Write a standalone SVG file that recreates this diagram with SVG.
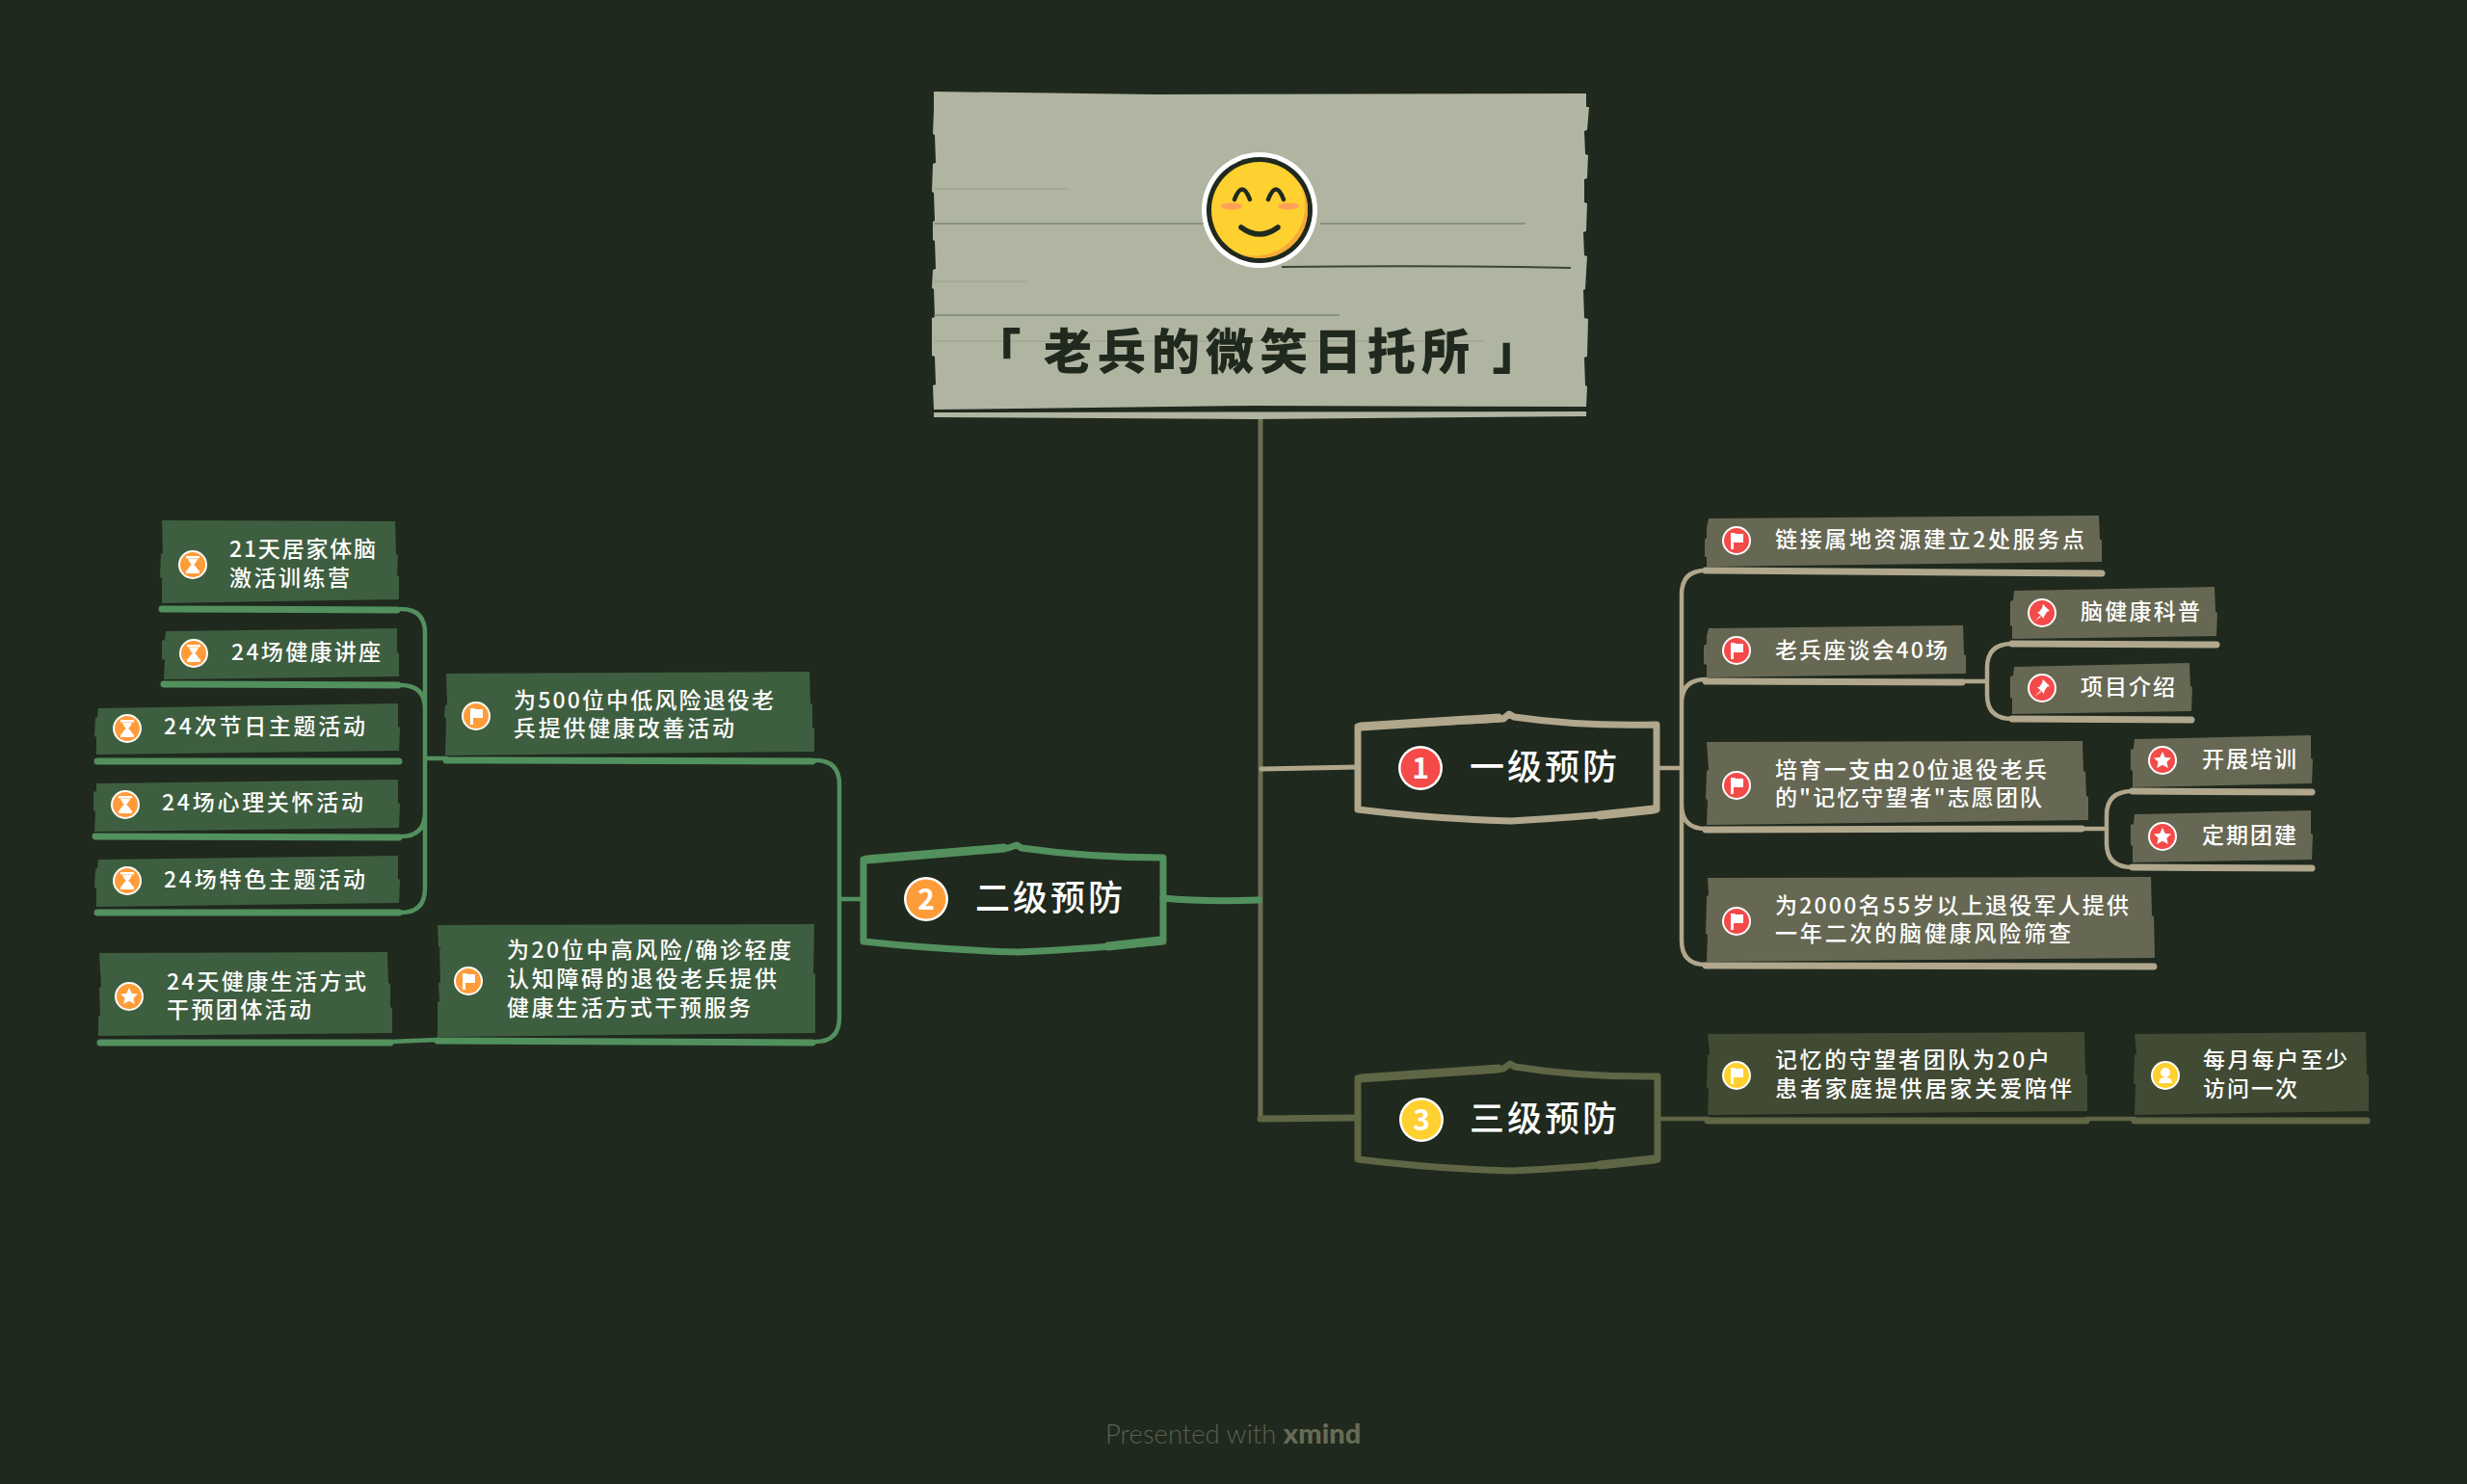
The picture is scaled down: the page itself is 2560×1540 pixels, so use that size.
<svg xmlns="http://www.w3.org/2000/svg" width="2560" height="1540" viewBox="0 0 2560 1540">
<style>
text{font-family:"Noto Sans CJK SC","Noto Sans",sans-serif;fill:#fff;font-weight:500}
.t{font-size:23px;letter-spacing:3px}
.h{font-size:36px;letter-spacing:3px}
.title{font-size:50px;font-weight:900;fill:#20291e;letter-spacing:6px}
.l{fill:none;stroke-linecap:round;stroke-linejoin:round}
.tan{stroke:#b0a78c}.grn{stroke:#52905e}.olv{stroke:#5f6645}
.w4{stroke-width:4.5}.w6{stroke-width:7}.w5{stroke-width:5}.w9{stroke-width:9}
.ct{fill:#666853}.cg{fill:#3e5e40}.co{fill:#414a33}
.foot{font-family:Lato,"Noto Sans",sans-serif;font-size:27.5px;fill:#5a614c;font-weight:300}
</style>
<defs>
<g id="flag"><circle r="15" fill="#fff"/><circle r="13"/><path d="M-6 -8 V9 H-3 V2 L7 2 V-7 H-1 L-2 -8 Z" fill="#fff"/></g>
<g id="star"><circle r="15" fill="#fff"/><circle r="13"/><path d="M0 -9 L2.8 -3 L9 -2.5 L4.4 1.8 L5.8 8 L0 4.8 L-5.8 8 L-4.4 1.8 L-9 -2.5 L-2.8 -3 Z" fill="#fff"/></g>
<g id="pin"><circle r="15" fill="#fff"/><circle r="13"/><path d="M1 -9 L8 -2 L5 -1 L2 4 L2 6 L-5 -1 L-3 -1 L0 -5 Z M-2 3 L-8 9 L-1 4 Z" fill="#fff"/></g>
<g id="glass"><circle r="15" fill="#fff"/><circle r="13"/><path d="M-7 -9 H7 V-6.5 H-7 Z M-5 -6 H5 Q3.5 -2 1 0 Q3 1 6 6 H7 V9 H-7 V6 H-6 Q-3 1 -1 0 Q-3.5 -2 -5 -6 Z" fill="#fff"/></g>
<g id="person"><circle r="15" fill="#fff"/><circle r="13"/><circle cy="-3" r="5" fill="#fff"/><path d="M-7 8 Q-7 2 0 2 Q7 2 7 8 Z" fill="#fff"/></g>
</defs>
<rect width="2560" height="1540" fill="#20291e"/>

<g id="connectors">
<path class="l" stroke="#6b6f52" stroke-width="5" d="M1308 433 V1161"/>
<path class="l tan w5" d="M1309 798 L1409 796"/>
<path class="l grn w6" d="M1207 932 Q1250 936 1306 934"/>
<path class="l olv w6" d="M1308 1161 L1409 1160"/>
<path class="l tan w4" d="M1719 797 H1745 M1745 797 V617 Q1745 592 1770 592 M1745 797 V730 Q1745 705 1770 705 M1745 797 V835 Q1745 860 1770 860 M1745 797 V976 Q1745 1001 1770 1001"/>
<path class="l tan w6" d="M1770 592 L2181 595 M1770 707 L2036 708 M1770 861 L2160 860 M1770 1002 L2235 1003"/>
<path class="l tan w4" d="M2036 707 H2062 M2062 707 V693 Q2062 668 2088 668 M2062 707 V721 Q2062 746 2088 746 M2160 860 H2186 M2186 860 V846 Q2186 821 2213 821 M2186 860 V875 Q2186 900 2213 900"/>
<path class="l tan w6" d="M2088 668 L2300 669 M2088 746 L2274 747 M2213 821 L2399 822 M2213 900 L2399 901"/>
<path class="l grn w4" d="M871 933 H896 M871 933 V814 Q871 789 846 789 M871 933 V1056 Q871 1081 846 1081 M463 787 H441 M441 787 V657 Q441 632 416 632 M441 787 V736 Q441 711 416 711 M441 787 V843 Q441 868 416 868 M441 787 V922 Q441 947 416 947 M405 1081 L454 1079"/>
<path class="l grn w6" d="M168 632 L412 633 M170 710 L413 711 M101 790 L414 790 M99 868 L414 869 M101 947 L414 947 M463 789 L843 790 M454 1080 L843 1082 M104 1082 L405 1082"/>
<path class="l olv w4" d="M1720 1161 H1772 M2165 1161 H2215"/>
<path class="l olv w6" d="M1772 1163 L2165 1163 M2215 1163 L2456 1163"/>
</g>

<g id="root">
<polygon fill="#b0b5a1" points="969,95 1200,98 1646,97 1646,111 1649,111 1647,135 1644,136 1645,160 1648,161 1647,185 1644,186 1644,210 1647,211 1646,240 1643,241 1644,265 1647,266 1645,300 1643,301 1644,330 1648,331 1647,370 1644,371 1645,400 1647,401 1646,422 1300,421 969,425 968,400 971,399 970,370 967,369 967,330 970,329 969,300 967,299 968,280 971,279 970,250 968,249 968,230 970,229 969,200 967,199 968,170 971,169 970,140 968,139 969,115"/>
<polygon fill="#b0b5a1" points="969,428 1646,427 1646,432 1300,435 969,433"/>
<path fill="none" stroke="#9aa08c" stroke-width="1" d="M969 196 H1110 M969 292 H1065 M969 354 H1540"/>
<path fill="none" stroke="#7f8672" stroke-width="1.5" d="M969 232 H1250 M1370 232 H1583 M969 327 H1390"/>
<path fill="none" stroke="#3c4533" stroke-width="2" d="M1330 277 Q1480 275 1630 278"/>
<circle cx="1307" cy="218" r="60" fill="#fff"/>
<circle cx="1307" cy="218" r="55" fill="#20291e"/>
<circle cx="1307" cy="218" r="50" fill="#fed030"/>
<path d="M1348 189 A50 50 0 0 1 1286 263 A52 52 0 0 0 1348 189 Z" fill="#f9a83a"/>
<ellipse cx="1278" cy="214" rx="11" ry="3.5" fill="#ffa05a"/><ellipse cx="1337" cy="214" rx="11" ry="3.5" fill="#ffa05a"/>
<path fill="none" stroke="#20291e" stroke-width="4.5" stroke-linecap="round" d="M1281 207 Q1289 186 1297 207 M1316 207 Q1324 186 1332 207"/>
<path fill="none" stroke="#20291e" stroke-width="5.5" stroke-linecap="round" d="M1288 236 Q1307 250 1326 236"/>
<text class="title" x="1307" y="383" text-anchor="middle">「 老兵的微笑日托所 」</text>
</g>

<g id="n1">
<path class="l tan w6" d="M1409 754 L1560 746 L1566 741 L1571 744 Q1640 754 1719 752 V840 Q1640 848 1568 852 Q1490 850 1409 840 Z"/>
<path class="l tan w9" d="M1412 754 L1555 745 M1660 846 L1716 840"/>
<circle cx="1474" cy="797" r="23" fill="#fff"/><circle cx="1474" cy="797" r="20.5" fill="#f44a4a"/>
<text x="1474" y="808" text-anchor="middle" font-size="30" style="font-weight:700">1</text>
<text class="h" x="1525" y="809">一级预防</text>
</g>
<g id="n2">
<path class="l grn w6" d="M896 892 L1046 880 L1055 877 L1060 880 Q1130 890 1207 890 V977 Q1130 985 1057 988 Q980 986 896 977 Z"/>
<path class="l grn w9" d="M899 892 L1042 880 M1150 982 L1204 976"/>
<circle cx="961" cy="933" r="23" fill="#fff"/><circle cx="961" cy="933" r="20.5" fill="#ff9c3a"/>
<text x="961" y="944" text-anchor="middle" font-size="30" style="font-weight:700">2</text>
<text class="h" x="1012" y="945">二级预防</text>
</g>
<g id="n3">
<path class="l olv w6" d="M1409 1119 L1560 1109 L1567 1104 L1572 1107 Q1640 1118 1720 1117 V1203 Q1640 1212 1568 1215 Q1490 1213 1409 1203 Z"/>
<path class="l olv w9" d="M1412 1119 L1555 1109 M1660 1209 L1717 1203"/>
<circle cx="1475" cy="1162" r="23" fill="#fff"/><circle cx="1475" cy="1162" r="20.5" fill="#fed030"/>
<text x="1475" y="1173" text-anchor="middle" font-size="30" style="font-weight:700">3</text>
<text class="h" x="1525" y="1174">三级预防</text>
</g>

<g id="c-link" fill="#f44a4a">
<polygon class="ct" points="1773,538 2178,535 2179,560 2181,560 2181,583 1771,588 1771,578 1769,578 1769,560 1771,558 1771,548"/>
<use href="#flag" x="1802" y="561"/>
<text class="t" x="1842" y="568" textLength="324">链接属地资源建立2处服务点</text>
</g>
<g id="c-talk" fill="#f44a4a">
<polygon class="ct" points="1773,652 2037,649 2038,679 2040,680 2040,699 1771,703 1771,690 1768,689 1768,670 1771,668 1771,660"/>
<use href="#flag" x="1802" y="675"/>
<text class="t" x="1842" y="683" textLength="182">老兵座谈会40场</text>
</g>
<g id="c-team" fill="#f44a4a">
<polygon class="ct" points="1771,770 2161,769 2162,800 2164,801 2165,826 2167,827 2167,851 1771,856 1772,830 1770,829 1771,800 1773,799 1772,785"/>
<use href="#flag" x="1802" y="815"/>
<text class="t" x="1842" y="807" textLength="285">培育一支由20位退役老兵</text>
<text class="t" x="1842" y="836" textLength="280">的"记忆守望者"志愿团队</text>
</g>
<g id="c-screen" fill="#f44a4a">
<polygon class="ct" points="1772,911 2232,910 2233,950 2235,951 2236,994 1771,998 1772,970 1770,969 1771,930 1773,929"/>
<use href="#flag" x="1802" y="956"/>
<text class="t" x="1842" y="948" textLength="370">为2000名55岁以上退役军人提供</text>
<text class="t" x="1842" y="977" textLength="310">一年二次的脑健康风险筛查</text>
</g>
<g id="c-sci" fill="#f44a4a">
<polygon class="ct" points="2090,613 2298,609 2299,635 2301,636 2300,660 2088,663 2088,650 2086,649 2086,624 2089,623"/>
<use href="#pin" x="2119" y="636"/>
<text class="t" x="2159" y="643" textLength="127">脑健康科普</text>
</g>
<g id="c-intro" fill="#f44a4a">
<polygon class="ct" points="2090,692 2272,688 2273,712 2275,713 2274,738 2088,741 2088,725 2086,724 2086,702 2089,701"/>
<use href="#pin" x="2119" y="714"/>
<text class="t" x="2159" y="721" textLength="101">项目介绍</text>
</g>
<g id="c-train" fill="#f44a4a">
<polygon class="ct" points="2215,767 2398,763 2398,787 2400,788 2399,813 2213,817 2213,800 2211,799 2211,778 2214,777"/>
<use href="#star" x="2244" y="789"/>
<text class="t" x="2285" y="796" textLength="101">开展培训</text>
</g>
<g id="c-build" fill="#f44a4a">
<polygon class="ct" points="2215,845 2398,841 2398,865 2400,866 2399,892 2213,895 2213,878 2211,877 2211,856 2214,855"/>
<use href="#star" x="2244" y="868"/>
<text class="t" x="2285" y="875" textLength="101">定期团建</text>
</g>
<g id="c-care" fill="#fed030">
<polygon class="co" points="1772,1073 2163,1071 2164,1115 2166,1116 2166,1153 1772,1157 1773,1130 1771,1129 1772,1095 1774,1094"/>
<use href="#flag" x="1802" y="1116"/>
<text class="t" x="1842" y="1108" textLength="288">记忆的守望者团队为20户</text>
<text class="t" x="1842" y="1138" textLength="311">患者家庭提供居家关爱陪伴</text>
</g>
<g id="c-visit" fill="#fed030">
<polygon class="co" points="2215,1073 2455,1071 2456,1115 2458,1116 2458,1153 2215,1157 2216,1125 2214,1124 2215,1095 2217,1094"/>
<use href="#person" x="2247" y="1116"/>
<text class="t" x="2286" y="1108" textLength="153">每月每户至少</text>
<text class="t" x="2286" y="1138" textLength="101">访问一次</text>
</g>

<g id="c-21" fill="#ff9c3a">
<polygon class="cg" points="168,540 410,541 411,575 413,576 412,597 414,598 414,622 168,626 168,600 166,599 167,575 169,574"/>
<use href="#glass" x="200" y="586"/>
<text class="t" x="238" y="578" textLength="155">21天居家体脑</text>
<text class="t" x="238" y="608" textLength="128">激活训练营</text>
</g>
<g id="c-lec" fill="#ff9c3a">
<polygon class="cg" points="172,655 412,652 412,677 414,678 414,702 170,705 171,685 168,684 168,665 171,664"/>
<use href="#glass" x="201" y="678"/>
<text class="t" x="240" y="685" textLength="158">24场健康讲座</text>
</g>
<g id="c-fest" fill="#ff9c3a">
<polygon class="cg" points="102,735 413,730 413,754 415,755 414,779 100,783 100,765 98,764 99,745 101,744"/>
<use href="#glass" x="132" y="756"/>
<text class="t" x="170" y="762" textLength="212">24次节日主题活动</text>
</g>
<g id="c-psy" fill="#ff9c3a">
<polygon class="cg" points="100,813 413,809 413,833 415,834 414,859 98,863 99,842 97,841 97,822 100,821"/>
<use href="#glass" x="130" y="835"/>
<text class="t" x="168" y="841" textLength="212">24场心理关怀活动</text>
</g>
<g id="c-spec" fill="#ff9c3a">
<polygon class="cg" points="102,892 413,888 413,912 415,913 414,937 100,941 100,922 98,921 99,902 101,901"/>
<use href="#glass" x="132" y="914"/>
<text class="t" x="170" y="921" textLength="212">24场特色主题活动</text>
</g>
<g id="c-500" fill="#ff9c3a">
<polygon class="cg" points="463,699 840,697 841,730 843,731 843,755 845,756 845,780 462,784 463,745 461,744 462,732 464,731"/>
<use href="#flag" x="494" y="743"/>
<text class="t" x="533" y="735" textLength="273">为500位中低风险退役老</text>
<text class="t" x="533" y="764" textLength="232">兵提供健康改善活动</text>
</g>
<g id="c-20" fill="#ff9c3a">
<polygon class="cg" points="454,960 845,959 844,1010 846,1011 846,1072 454,1076 454,1040 456,1039 455,1020 457,1019 456,985 458,984 455,983"/>
<use href="#flag" x="486" y="1018"/>
<text class="t" x="526" y="994" textLength="298">为20位中高风险/确诊轻度</text>
<text class="t" x="526" y="1024" textLength="283">认知障碍的退役老兵提供</text>
<text class="t" x="526" y="1054" textLength="256">健康生活方式干预服务</text>
</g>
<g id="c-24" fill="#ff9c3a">
<polygon class="cg" points="103,989 402,988 403,1020 405,1021 405,1045 407,1046 407,1072 102,1075 102,1055 104,1054 103,1025 105,1024"/>
<use href="#star" x="134" y="1034"/>
<text class="t" x="173" y="1027" textLength="210">24天健康生活方式</text>
<text class="t" x="173" y="1056" textLength="153">干预团体活动</text>
</g>

<text class="foot" x="1147" y="1498">Presented with <tspan style="font-weight:900;font-size:29px" fill="#666c55">xmind</tspan></text>
</svg>
